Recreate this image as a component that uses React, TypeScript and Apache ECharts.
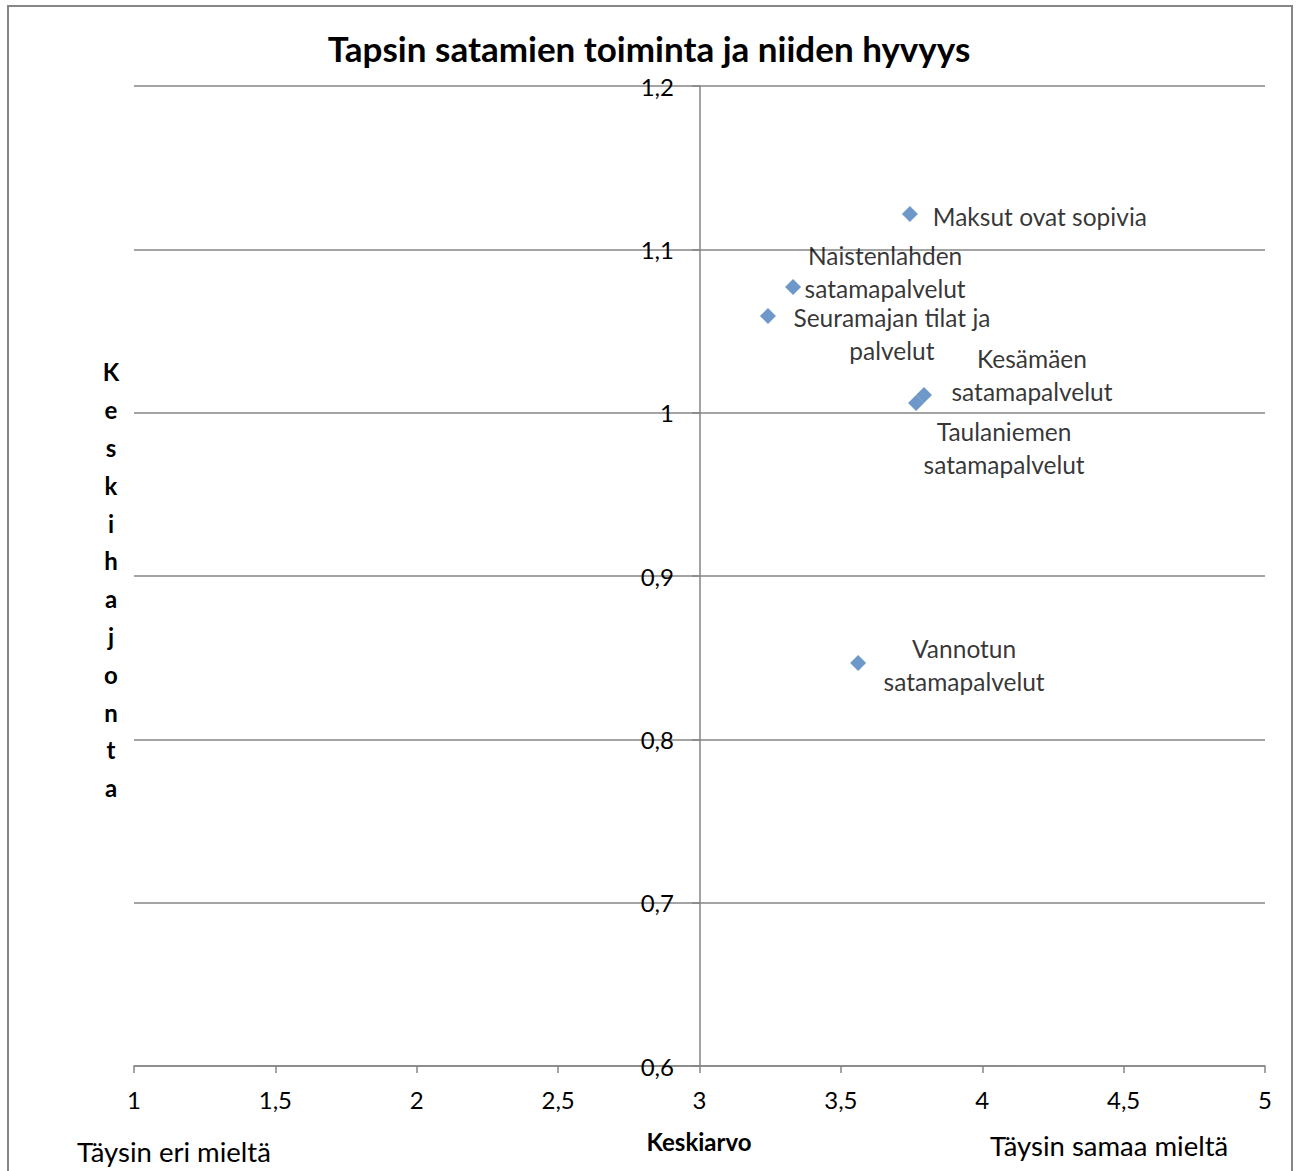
import React, { useEffect, useRef } from "react";
import * as echarts from "echarts";

const TITLE = "Tapsin satamien toiminta ja niiden hyvyys";
const X_NAME = "Keskiarvo";
const Y_NAME = "Keskihajonta";
const X_LEFT_NOTE = "Täysin eri mieltä";
const X_RIGHT_NOTE = "Täysin samaa mieltä";

const pointNames = [
  "Maksut ovat sopivia",
  "Naistenlahden\nsatamapalvelut",
  "Seuramajan tilat ja\npalvelut",
  "Kesämäen\nsatamapalvelut",
  "Taulaniemen\nsatamapalvelut",
  "Vannotun\nsatamapalvelut",
];
const meanValues = [3.744, 3.331, 3.242, 3.794, 3.766, 3.561];
const sdValues = [1.1216, 1.0769, 1.0592, 1.0108, 1.0059, 0.8467];
const labelOffsets: [number, number][] = [
  [130, 2],
  [92, -15],
  [124, 18],
  [108, -20],
  [88, 45],
  [106, 2],
];

const FONT = "Lato, 'Open Sans', sans-serif";
const GRAY = "#868686";
const TEXT = "#000000";

export default function App() {
  const ref = useRef<HTMLDivElement>(null);
  useEffect(() => {
    if (!ref.current) return;
    const chart = echarts.init(ref.current, undefined, { renderer: "svg" });
    const data = meanValues.map((m, i) => ({
      value: [m, sdValues[i]],
      name: pointNames[i],
      label: { offset: labelOffsets[i] },
    }));
    chart.setOption({
      animation: false,
      backgroundColor: "#ffffff",
      textStyle: { fontFamily: FONT },
      title: {
        text: TITLE,
        left: "center",
        top: 25,
        textStyle: { fontFamily: FONT, fontWeight: "bold", fontSize: 35, color: TEXT },
      },
      grid: { left: 134, right: 33, top: 86, bottom: 105 },
      xAxis: {
        type: "value",
        min: 1,
        max: 5,
        interval: 0.5,
        axisLine: { show: true, onZero: false, lineStyle: { color: GRAY, width: 1.5 } },
        axisTick: { show: true, length: 7, lineStyle: { color: GRAY, width: 1.5 } },
        splitLine: { show: false },
        axisLabel: {
          margin: 21,
          fontSize: 24,
          color: TEXT,
          fontFamily: FONT,
          formatter: (v: number) => String(v).replace(".", ","),
        },
      },
      yAxis: {
        type: "value",
        min: 0.6,
        max: 1.2,
        interval: 0.1,
        position: "left",
        offset: -566,
        axisLine: { show: true, onZero: false, lineStyle: { color: GRAY, width: 1.5 } },
        axisTick: { show: true, length: 8, lineStyle: { color: GRAY, width: 1.5 } },
        splitLine: { show: true, lineStyle: { color: GRAY, width: 1.5 } },
        axisLabel: {
          margin: 26,
          fontSize: 24,
          color: TEXT,
          fontFamily: FONT,
          formatter: (v: number) => String(Math.round(v * 10) / 10).replace(".", ","),
        },
      },
      series: [
        {
          type: "scatter",
          symbol: "diamond",
          symbolSize: 16,
          itemStyle: { color: "#4A7EBB" },
          data,
          label: {
            show: true,
            position: "inside",
            align: "center",
            verticalAlign: "middle",
            formatter: (p: any) => p.name,
            fontSize: 24.5,
            lineHeight: 33,
            color: TEXT,
            fontFamily: FONT,
          },
        },
      ],
      graphic: [
        {
          type: "rect",
          shape: { x: 8, y: 6, width: 1284, height: 1200 },
          style: { fill: "none", stroke: GRAY, lineWidth: 2 },
          silent: true,
        },
        {
          type: "text",
          x: 111,
          y: 353,
          style: {
            text: Y_NAME.split("").join("\n"),
            fontFamily: FONT,
            fontWeight: "bold",
            fontSize: 24,
            lineHeight: 37.8,
            fill: TEXT,
            align: "center",
            verticalAlign: "top",
          },
        },
        {
          type: "text",
          x: 699,
          y: 1141,
          style: {
            text: X_NAME,
            fontFamily: FONT,
            fontWeight: "bold",
            fontSize: 24,
            fill: TEXT,
            align: "center",
            verticalAlign: "middle",
          },
        },
        {
          type: "text",
          x: 77,
          y: 1151,
          style: {
            text: X_LEFT_NOTE,
            fontFamily: FONT,
            fontSize: 27.5,
            fill: TEXT,
            align: "left",
            verticalAlign: "middle",
          },
        },
        {
          type: "text",
          x: 990,
          y: 1145,
          style: {
            text: X_RIGHT_NOTE,
            fontFamily: FONT,
            fontSize: 27.5,
            fill: TEXT,
            align: "left",
            verticalAlign: "middle",
          },
        },
      ],
    });
    return () => chart.dispose();
  }, []);
  return (
    <div
      ref={ref}
      style={{ position: "absolute", left: 0, top: 0, width: 1298, height: 1171 }}
    />
  );
}
